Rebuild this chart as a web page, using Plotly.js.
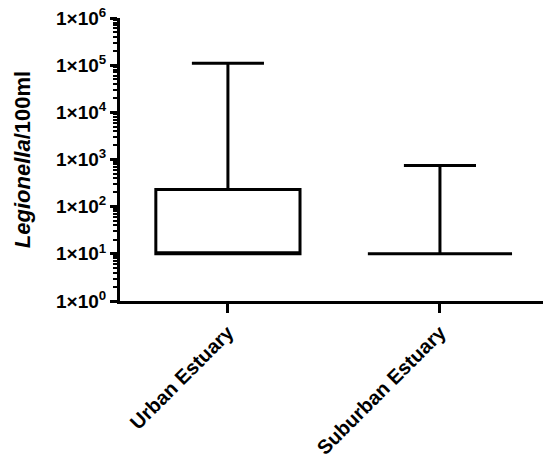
<!DOCTYPE html>
<html>
<head>
<meta charset="utf-8">
<script src="https://cdn.plot.ly/plotly-3.0.1.min.js"></script>
<style>html,body{margin:0;padding:0;background:#fff;}#chart{width:543px;height:460px;}</style>
</head>
<body>
<div id="chart"></div>
<script>
const categories = ['Urban Estuary', 'Suburban Estuary'];
const lowerWhisker = [10, 10];
const q1Values = [10, 10];
const medianValues = [10, 10];
const q3Values = [230, 10];
const upperWhisker = [110000, 750];
const yTickVals = [1, 10, 100, 1000, 10000, 100000, 1000000];
const yTickText = ['1×10<sup>0</sup>', '1×10<sup>1</sup>', '1×10<sup>2</sup>', '1×10<sup>3</sup>', '1×10<sup>4</sup>', '1×10<sup>5</sup>', '1×10<sup>6</sup>'];

const trace = {
  type: 'box',
  x: categories,
  q1: q1Values,
  median: medianValues,
  q3: q3Values,
  lowerfence: lowerWhisker,
  upperfence: upperWhisker,
  width: 0.68,
  whiskerwidth: 0.5,
  fillcolor: 'rgba(255,255,255,0)',
  line: {color: '#000', width: 3},
  boxpoints: false,
  hoverinfo: 'skip',
  showlegend: false
};

const fam = 'Arial, Liberation Sans, sans-serif';

const layout = {
  width: 543, height: 460,
  margin: {l: 120, r: 0, t: 18, b: 159, pad: 0},
  paper_bgcolor: '#fff', plot_bgcolor: '#fff',
  font: {family: fam, color: '#000', size: 18, weight: 'bold'},
  showlegend: false,
  xaxis: {
    type: 'category',
    range: [-0.509, 1.486],
    showgrid: false, zeroline: false,
    showline: true, linecolor: '#000', linewidth: 3,
    ticks: 'outside', ticklen: 9, tickwidth: 3, tickcolor: '#000',
    tickangle: -45,
    tickfont: {family: fam, size: 20, color: '#000', weight: 'bold'}
  },
  yaxis: {
    type: 'log',
    range: [0, 6],
    showgrid: false, zeroline: false,
    showline: true, linecolor: '#000', linewidth: 3,
    ticks: 'outside', ticklen: 7, tickwidth: 3, tickcolor: '#000',
    tickvals: yTickVals, ticktext: yTickText,
    tickfont: {family: fam, size: 19, color: '#000', weight: 'bold'},
    minor: {ticks: 'outside', ticklen: 4, tickwidth: 2, tickcolor: '#000', dtick: 'D1', showgrid: false},
    title: {text: '<i>Legionella</i>/100ml', font: {family: fam, size: 22, color: '#000', weight: 'bold'}, standoff: 20}
  }
};

Plotly.newPlot('chart', [trace], layout, {displayModeBar: false, staticPlot: true});
</script>
</body>
</html>
